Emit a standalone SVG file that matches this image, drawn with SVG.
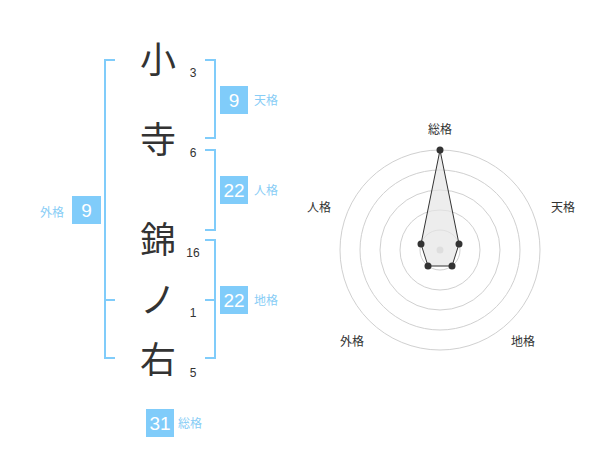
<svg xmlns="http://www.w3.org/2000/svg" width="600" height="470" viewBox="0 0 600 470">
<style>
.ch{font-family:"Noto Sans CJK JP","Noto Sans CJK SC",sans-serif;font-size:36px;fill:#333;text-anchor:middle}
.num{font-family:"Liberation Sans",Arial,sans-serif;font-size:12px;fill:#333;text-anchor:middle}
.box{fill:#80ccfa}
.bn{font-family:"Liberation Sans",Arial,sans-serif;font-size:19px;fill:#fff;text-anchor:middle}
.bl{font-family:"Noto Sans CJK JP","Noto Sans CJK SC",sans-serif;font-size:12px;fill:#88cdf6}
.br{fill:none;stroke:#80ccfa;stroke-width:2}
.ring{fill:none;stroke:#d0d0d0;stroke-width:1}
.rl{font-family:"Noto Sans CJK JP","Noto Sans CJK SC",sans-serif;font-size:12px;fill:#333;text-anchor:middle}
.pt{fill:#333}
</style>
<g id="connectors">
<path class="br" d="M115,60 H105 V358 H115 M105,300 H115"/>
<path class="br" d="M205,60 H215 V138 H205"/>
<path class="br" d="M205,150 H215 V230 H205"/>
<path class="br" d="M205,240 H215 V358 H205 M205,300 H215"/>
</g>
<g id="chars">
<text class="ch" x="158" y="73">小</text>
<text class="ch" x="158" y="153">寺</text>
<text class="ch" x="158" y="253">錦</text>
<text class="ch" x="158" y="313">ノ</text>
<text class="ch" x="158" y="373">右</text>
<text class="num" x="193" y="77">3</text>
<text class="num" x="193" y="157">6</text>
<text class="num" x="193" y="257">16</text>
<text class="num" x="193" y="317">1</text>
<text class="num" x="193" y="377">5</text>
</g>
<g id="tenkaku">
<rect class="box" x="220" y="86" width="28" height="28"/>
<text class="bn" x="234" y="107">9</text>
<text class="bl" x="254" y="105">天格</text>
</g>
<g id="jinkaku">
<rect class="box" x="220" y="176" width="28" height="28"/>
<text class="bn" x="234" y="197">22</text>
<text class="bl" x="254" y="195">人格</text>
</g>
<g id="chikaku">
<rect class="box" x="220" y="286" width="28" height="28"/>
<text class="bn" x="234" y="307">22</text>
<text class="bl" x="254" y="305">地格</text>
</g>
<g id="gaikaku">
<rect class="box" x="72" y="196" width="29" height="28"/>
<text class="bn" x="86.5" y="217">9</text>
<text class="bl" x="40" y="217">外格</text>
</g>
<g id="soukaku">
<rect class="box" x="146" y="409" width="28" height="28"/>
<text class="bn" x="160" y="430">31</text>
<text class="bl" x="178" y="428">総格</text>
</g>
<g id="radar">
<circle class="ring" cx="440" cy="250" r="20"/>
<circle class="ring" cx="440" cy="250" r="40"/>
<circle class="ring" cx="440" cy="250" r="60"/>
<circle class="ring" cx="440" cy="250" r="80"/>
<circle class="ring" cx="440" cy="250" r="100"/>
<circle cx="440" cy="250" r="3.5" fill="#ccc"/>
<polygon points="440,150 459,244 452,266 428,266 421,244" fill="#e6e6e6" fill-opacity="0.7" stroke="#333" stroke-width="1"/>
<circle class="pt" cx="440" cy="150" r="3.5"/>
<circle class="pt" cx="459" cy="244" r="3.5"/>
<circle class="pt" cx="452" cy="266" r="3.5"/>
<circle class="pt" cx="428" cy="266" r="3.5"/>
<circle class="pt" cx="421" cy="244" r="3.5"/>
<text class="rl" x="440" y="134">総格</text>
<text class="rl" x="563" y="212">天格</text>
<text class="rl" x="319" y="212">人格</text>
<text class="rl" x="352" y="346">外格</text>
<text class="rl" x="523" y="346">地格</text>
</g>
</svg>
